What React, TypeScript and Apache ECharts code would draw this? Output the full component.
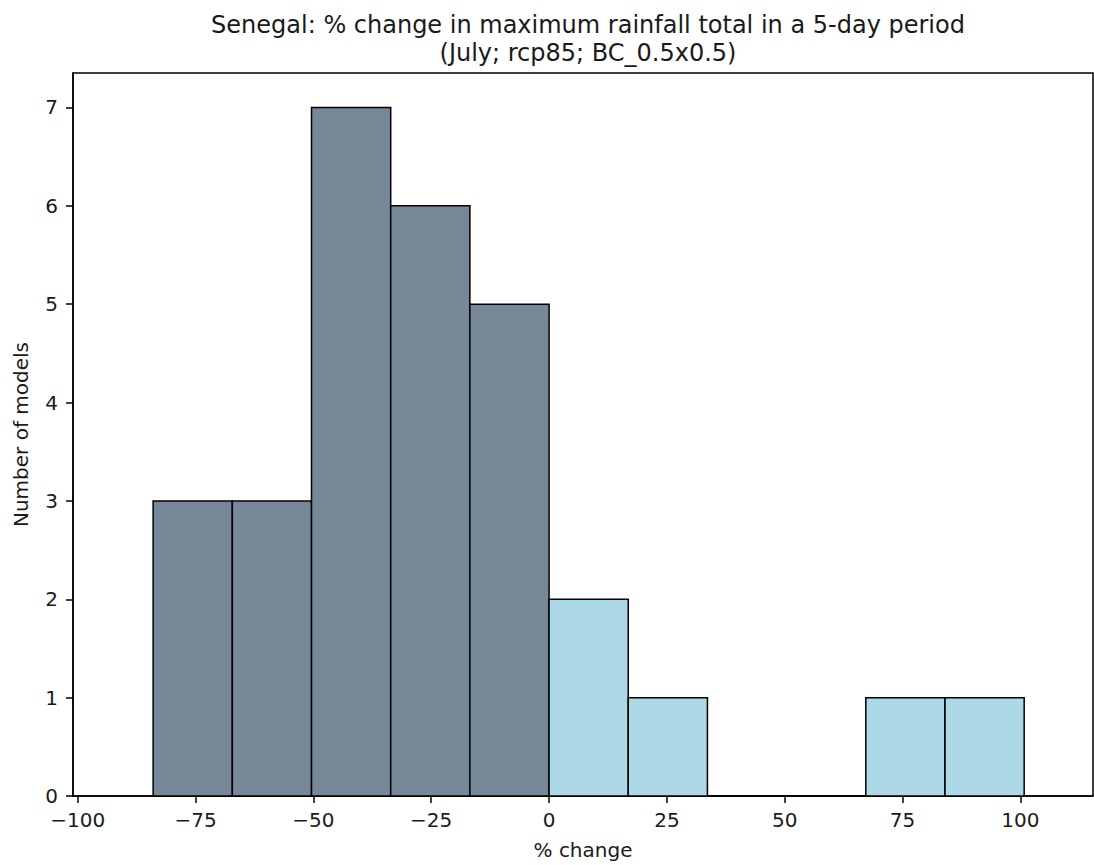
import React, { useEffect, useRef } from "react";
import * as echarts from "echarts";

const titleLines = [
  "Senegal: % change in maximum rainfall total in a 5-day period",
  "(July; rcp85; BC_0.5x0.5)",
];
const xAxisName = "% change";
const yAxisName = "Number of models";

// Histogram bin edges (12 edges -> 11 bins) and model counts per bin
const binEdges = [-84.0, -67.2, -50.4, -33.6, -16.8, 0.0, 16.8, 33.6, 50.4, 67.2, 84.0, 100.8];
const counts = [3, 3, 7, 6, 5, 2, 1, 0, 0, 1, 1];

const xTicks = [-100, -75, -50, -25, 0, 25, 50, 75, 100];
const yTicks = [0, 1, 2, 3, 4, 5, 6, 7];

const FONT = "DejaVu Sans";

export default function App() {
  const ref = useRef<HTMLDivElement>(null);
  useEffect(() => {
    if (!ref.current) return;
    const chart = echarts.init(ref.current, undefined, { renderer: "svg" });
    const data = counts.map((c, i) => [binEdges[i], binEdges[i + 1], c]);
    chart.setOption({
      animation: false,
      backgroundColor: "#ffffff",
      textStyle: { fontFamily: FONT },
      title: {
        text: titleLines.join("\n"),
        left: 583,
        top: 6,
        textAlign: "center",
        textStyle: {
          fontFamily: FONT,
          fontSize: 24,
          fontWeight: "normal",
          color: "#1a1a1a",
          lineHeight: 28,
        },
      },
      grid: {
        left: 73,
        right: 1,
        top: 73,
        bottom: 68,
        show: true,
        borderColor: "#000",
        borderWidth: 1.5,
        backgroundColor: "transparent",
      },
      xAxis: {
        type: "value",
        min: -101,
        max: 115.4,
        name: xAxisName,
        nameLocation: "middle",
        nameGap: 44,
        nameTextStyle: { fontFamily: FONT, fontSize: 20, color: "#1a1a1a" },
        splitLine: { show: false },
        axisLine: { show: true, onZero: false, lineStyle: { color: "#000", width: 1.5 } },
        axisTick: {
          show: true,
          inside: false,
          length: 7,
          customValues: xTicks,
          lineStyle: { color: "#000", width: 1.5 },
        },
        axisLabel: {
          show: true,
          customValues: xTicks,
          margin: 15,
          lineHeight: 18,
          fontFamily: FONT,
          fontSize: 20,
          color: "#1a1a1a",
          formatter: (v: number) => String(v).replace("-", "\u2212"),
        },
      },
      yAxis: {
        type: "value",
        min: 0,
        max: 7.35,
        name: yAxisName,
        nameLocation: "middle",
        nameGap: 42,
        nameTextStyle: { fontFamily: FONT, fontSize: 20, color: "#1a1a1a" },
        splitLine: { show: false },
        axisLine: { show: true, onZero: false, lineStyle: { color: "#000", width: 1.5 } },
        axisTick: {
          show: true,
          inside: false,
          length: 7,
          customValues: yTicks,
          lineStyle: { color: "#000", width: 1.5 },
        },
        axisLabel: {
          show: true,
          customValues: yTicks,
          margin: 15,
          lineHeight: 16,
          fontFamily: FONT,
          fontSize: 20,
          color: "#1a1a1a",
        },
      },
      series: [
        {
          type: "custom",
          data,
          encode: { x: [0, 1], y: 2 },
          renderItem: (params: any, api: any) => {
            const x0 = api.value(0);
            const x1 = api.value(1);
            const c = api.value(2);
            const pTop = api.coord([x0, c]);
            const pBot = api.coord([x1, 0]);
            return {
              type: "rect",
              shape: {
                x: pTop[0],
                y: pTop[1],
                width: pBot[0] - pTop[0],
                height: pBot[1] - pTop[1],
              },
              style: {
                fill: x0 < 0 ? "#778899" : "#ADD8E6",
                stroke: "#000",
                lineWidth: 1.5,
              },
            };
          },
        },
      ],
    });
    return () => chart.dispose();
  }, []);
  return (
    <div
      ref={ref}
      style={{ position: "fixed", left: 0, top: 0, width: 1094, height: 865 }}
    />
  );
}
